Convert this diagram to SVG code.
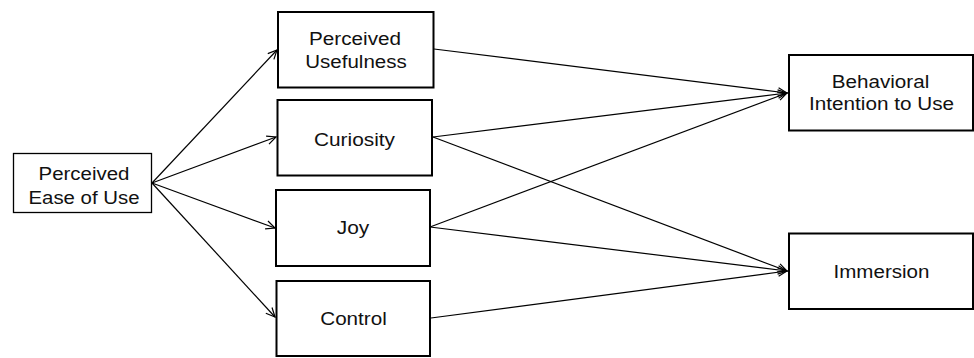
<svg xmlns="http://www.w3.org/2000/svg" width="974" height="358" viewBox="0 0 974 358">
  <style>
    .box { fill: #ffffff; stroke: #000000; stroke-width: 2; }
    .box.thin { stroke-width: 1.3; }
    .lbl { font-family: "Liberation Sans", Arial, sans-serif; font-size: 17.5px; fill: #111111; text-anchor: middle; }
    .edge { fill: none; stroke: #000000; stroke-width: 1.2; marker-end: url(#arr); }
  </style>
  <defs>
    <marker id="arr" markerUnits="userSpaceOnUse" markerWidth="12" markerHeight="12" viewBox="0 0 12 12" refX="10" refY="5" orient="auto">
      <path d="M1,0.8 L10,5 L1,9.2" fill="none" stroke="#000000" stroke-width="1.2"/>
    </marker>
  </defs>
  <rect width="974" height="358" fill="#ffffff"/>

  <g id="connectors">
    <line class="edge" x1="152" y1="183" x2="277" y2="50"/>
    <line class="edge" x1="152" y1="183" x2="276" y2="137"/>
    <line class="edge" x1="152" y1="183" x2="275" y2="228"/>
    <line class="edge" x1="152" y1="183" x2="275" y2="317"/>
    <line class="edge" x1="434" y1="49" x2="787" y2="93"/>
    <line class="edge" x1="433" y1="137" x2="787" y2="93"/>
    <line class="edge" x1="433" y1="137" x2="787" y2="271"/>
    <line class="edge" x1="430" y1="227" x2="787" y2="93"/>
    <line class="edge" x1="430" y1="227" x2="787" y2="271"/>
    <line class="edge" x1="431" y1="318" x2="787" y2="271"/>
  </g>

  <g id="peou">
    <rect class="box thin" x="13.5" y="153.5" width="138" height="59"/>
    <text class="lbl" x="84" y="180" textLength="91" lengthAdjust="spacingAndGlyphs">Perceived</text>
    <text class="lbl" x="84" y="203.5" textLength="111" lengthAdjust="spacingAndGlyphs">Ease of Use</text>
  </g>

  <g id="pu">
    <rect class="box" x="278" y="12" width="155.5" height="75.5"/>
    <text class="lbl" x="355" y="44.5" textLength="92" lengthAdjust="spacingAndGlyphs">Perceived</text>
    <text class="lbl" x="356" y="67.5" textLength="101.5" lengthAdjust="spacingAndGlyphs">Usefulness</text>
  </g>

  <g id="curiosity">
    <rect class="box" x="277.5" y="100" width="154.5" height="75.5"/>
    <text class="lbl" x="354.5" y="145.5" textLength="81" lengthAdjust="spacingAndGlyphs">Curiosity</text>
  </g>

  <g id="joy">
    <rect class="box" x="276" y="190" width="154" height="76"/>
    <text class="lbl" x="353" y="234" textLength="32.5" lengthAdjust="spacingAndGlyphs">Joy</text>
  </g>

  <g id="control">
    <rect class="box" x="276.5" y="281" width="153.5" height="75"/>
    <text class="lbl" x="353.5" y="325" textLength="66.5" lengthAdjust="spacingAndGlyphs">Control</text>
  </g>

  <g id="bi">
    <rect class="box" x="789" y="55" width="184" height="75.5"/>
    <text class="lbl" x="880.5" y="87.5" textLength="97.5" lengthAdjust="spacingAndGlyphs">Behavioral</text>
    <text class="lbl" x="881.5" y="110" textLength="145" lengthAdjust="spacingAndGlyphs">Intention to Use</text>
  </g>

  <g id="immersion">
    <rect class="box" x="789" y="233.5" width="184" height="75.5"/>
    <text class="lbl" x="881.5" y="278" textLength="96" lengthAdjust="spacingAndGlyphs">Immersion</text>
  </g>
</svg>
